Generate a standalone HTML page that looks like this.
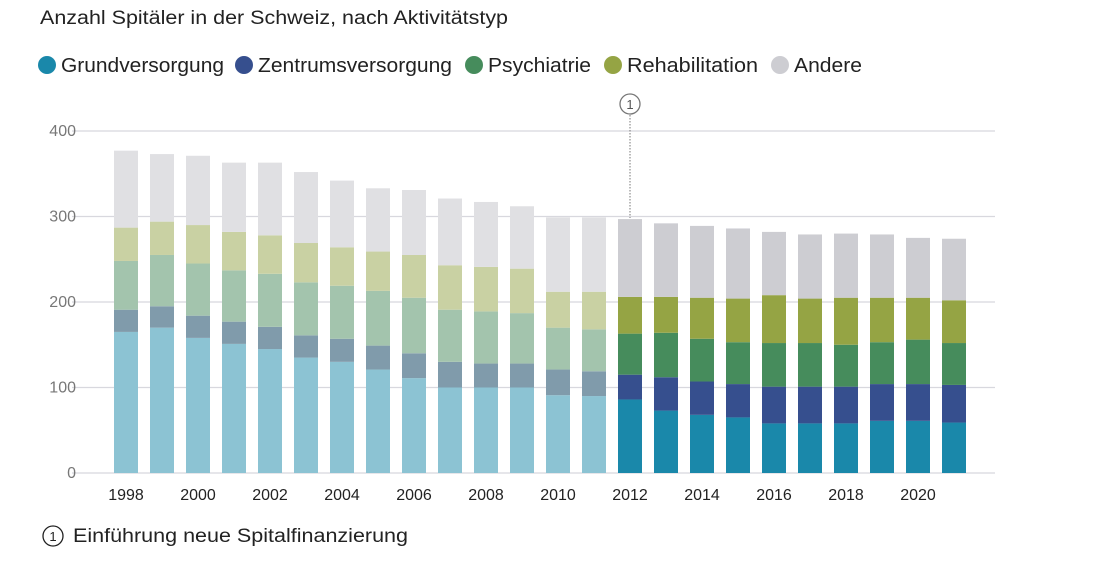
<!DOCTYPE html>
<html><head><meta charset="utf-8"><style>
body{margin:0;background:#fff;font-family:"Liberation Sans",sans-serif;}
svg{display:block}
</style></head><body>
<svg width="1120" height="564">
<text x="40" y="24" font-size="19" fill="#222" textLength="468" lengthAdjust="spacingAndGlyphs">Anzahl Spitäler in der Schweiz, nach Aktivitätstyp</text>
<g id="legend"></g>
<g id="grid"></g>
<g id="bars"></g>
<g id="xaxis"></g>
<g>
<line x1="630" y1="115" x2="630" y2="218" stroke="#777" stroke-width="1" stroke-dasharray="1.5,1.5"/>
<circle cx="630" cy="104" r="10" fill="#fff" stroke="#777" stroke-width="1.3"/>
<text x="630" y="109" font-size="13" text-anchor="middle" fill="#555">1</text>
</g>
<g>
<circle cx="53" cy="536" r="10" fill="#fff" stroke="#222" stroke-width="1.3"/>
<text x="53" y="541" font-size="13" text-anchor="middle" fill="#222">1</text>
<text x="73" y="542" font-size="19" fill="#222" textLength="335" lengthAdjust="spacingAndGlyphs">Einführung neue Spitalfinanzierung</text>
</g>
</svg>
<script>
const years=[1998,1999,2000,2001,2002,2003,2004,2005,2006,2007,2008,2009,2010,2011,2012,2013,2014,2015,2016,2017,2018,2019,2020,2021];
const grund=[165,170,158,151,145,135,130,121,111,100,100,100,91,90,86,73,68,65,58,58,58,61,61,59];
const zentr=[26,25,26,26,26,26,27,28,29,30,28,28,30,29,29,39,39,39,43,43,43,43,43,44];
const psych=[57,60,61,60,62,62,62,64,65,61,61,59,49,49,48,52,50,49,51,51,49,49,52,49];
const rehab=[39,39,45,45,45,46,45,46,50,52,52,52,42,44,43,42,48,51,56,52,55,52,49,50];
const andere=[90,79,81,81,85,83,78,74,76,78,76,73,87,87,91,86,84,82,74,75,75,74,70,72];
const yTicks=[0,100,200,300,400];
const seriesNames=["Grundversorgung","Zentrumsversorgung","Psychiatrie","Rehabilitation","Andere"];
const colors=["#1a88aa","#364f8e","#468c5c","#95a444","#cdcdd2"];
const faded=["#8cc3d3","#809bab","#a3c4ad","#c9d1a3","#e0e0e3"];
const NS="http://www.w3.org/2000/svg";
const y=v=>473-v*0.855;
const x=i=>126+i*36;
const grid=document.getElementById('grid');
yTicks.forEach(t=>{
  const l=document.createElementNS(NS,'line');
  l.setAttribute('x1',72);l.setAttribute('x2',995);l.setAttribute('y1',y(t));l.setAttribute('y2',y(t));
  l.setAttribute('stroke','#d8d8de');l.setAttribute('stroke-width',1.3);
  
  
  grid.appendChild(l);
  const tx=document.createElementNS(NS,'text');
  tx.setAttribute('x',76);tx.setAttribute('y',y(t)+5);tx.setAttribute('text-anchor','end');
  tx.setAttribute('font-size',16);tx.setAttribute('fill','#777');tx.textContent=t;
  
  
  grid.appendChild(tx);
});
const data=[grund,zentr,psych,rehab,andere];
const bars=document.getElementById('bars');
years.forEach((yr,i)=>{
  let cum=0;
  data.forEach((s,k)=>{
    const r=document.createElementNS(NS,'rect');
    r.setAttribute('x',x(i)-12);r.setAttribute('width',24);
    r.setAttribute('y',y(cum+s[i]));r.setAttribute('height',s[i]*0.855);
    r.setAttribute('fill',yr<2012?faded[k]:colors[k]);
    
    
    bars.appendChild(r);
    cum+=s[i];
  });
  if(i%2===0){
    const tx=document.createElementNS(NS,'text');
    tx.setAttribute('x',x(i));tx.setAttribute('y',500);tx.setAttribute('text-anchor','middle');
    tx.setAttribute('font-size',16);tx.setAttribute('fill','#222');tx.textContent=yr;
    
    
    document.getElementById('xaxis').appendChild(tx);
  }
});
const lg=document.getElementById('legend');
const lxs=[47,244,474,613,780];
const tlen=[163,194,103,131,68];
seriesNames.forEach((n,k)=>{
  const g=document.createElementNS(NS,'g');
  
  
  const c=document.createElementNS(NS,'circle');
  c.setAttribute('cx',lxs[k]);c.setAttribute('cy',65);c.setAttribute('r',9);c.setAttribute('fill',colors[k]);
  g.appendChild(c);
  const t=document.createElementNS(NS,'text');
  t.setAttribute('x',lxs[k]+14);t.setAttribute('y',72);t.setAttribute('font-size',20);t.setAttribute('fill','#222');
  t.setAttribute('textLength',tlen[k]);t.setAttribute('lengthAdjust','spacingAndGlyphs');
  t.textContent=n;g.appendChild(t);
  lg.appendChild(g);
});
</script>
</body></html>
